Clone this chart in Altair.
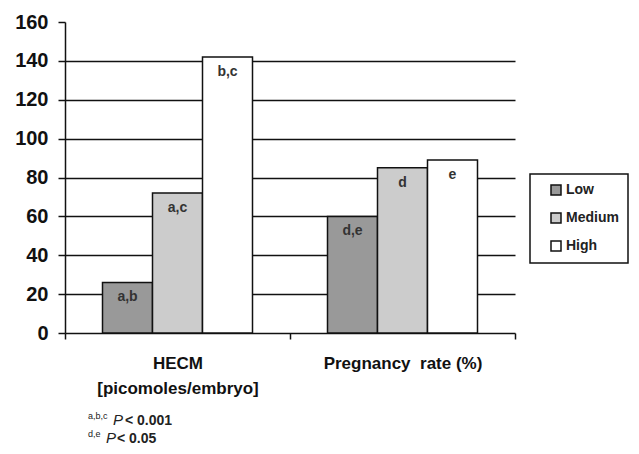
import altair as alt
import pandas as pd

categories = ["HECM|[picomoles/embryo]", "Pregnancy\u00a0 rate (%)"]
groups = ["Low", "Medium", "High"]
hecm_values = [26, 72, 142]
pregnancy_values = [60, 85, 89]
hecm_marks = ["a,b", "a,c", "b,c"]
pregnancy_marks = ["d,e", "d", "e"]
colors = ["#999999", "#cccccc", "#ffffff"]
y_ticks = [0, 20, 40, 60, 80, 100, 120, 140, 160]

rows = []
for g, v, m in zip(groups, hecm_values, hecm_marks):
    rows.append({"cat": categories[0], "group": g, "value": v, "mark": m})
for g, v, m in zip(groups, pregnancy_values, pregnancy_marks):
    rows.append({"cat": categories[1], "group": g, "value": v, "mark": m})
df = pd.DataFrame(rows)

FONT = "Liberation Sans"

x_axis = alt.Axis(
    labelExpr="split(datum.label, '|')",
    labelAngle=0,
    labelFont=FONT,
    labelFontSize=17,
    labelFontWeight="bold",
    labelColor="#111",
    labelLineHeight=25,
    labelPadding=16,
    labelBaseline="top",
    tickBand="extent",
    tickSize=6,
    tickColor="#111",
    tickWidth=1.5,
    domainColor="#111",
    domainWidth=1.5,
    grid=False,
)
y_axis = alt.Axis(
    values=y_ticks,
    tickCount=9,
    labelOverlap=False,
    labelFont=FONT,
    labelFontSize=20,
    labelFontWeight="bold",
    labelColor="#111",
    labelPadding=10,
    tickSize=7,
    tickColor="#111",
    tickWidth=1.5,
    domainColor="#111",
    domainWidth=1.5,
    grid=True,
    gridColor="#111",
    gridWidth=1.5,
    gridOpacity={"condition": {"test": "datum.value >= 160 || datum.value <= 0", "value": 0}, "value": 1},
)

x_enc = alt.X("cat:N", sort=categories, title=None,
              scale=alt.Scale(paddingInner=0, paddingOuter=0), axis=x_axis)
xoff_enc = alt.XOffset("group:N", sort=groups,
                       scale=alt.Scale(paddingInner=0, paddingOuter=0.75))
y_enc = alt.Y("value:Q", title=None,
              scale=alt.Scale(domain=[0, 160], nice=False), axis=y_axis)

bars = alt.Chart(df).mark_bar(stroke="#111", strokeWidth=1.5).encode(
    x=x_enc,
    xOffset=xoff_enc,
    y=y_enc,
    fill=alt.Fill(
        "group:N",
        sort=groups,
        scale=alt.Scale(domain=groups, range=colors),
        legend=alt.Legend(
            title=None,
            orient="none",
            legendX=465,
            legendY=152,
            symbolType="square",
            symbolSize=100,
            symbolStrokeColor="#111",
            symbolStrokeWidth=1.5,
            symbolOffset=10,
            labelFont=FONT,
            labelFontSize=14,
            labelFontWeight="bold",
            labelColor="#222",
            labelOffset=3,
            rowPadding=12,
            padding=9,
            strokeColor="#111",
        ),
    ),
)

labels = alt.Chart(df).mark_text(
    baseline="middle", dy=15, font=FONT, fontSize=14, fontWeight="bold", color="#333"
).encode(
    x=x_enc,
    xOffset=xoff_enc,
    y=y_enc,
    text="mark:N",
)

foot_sup = ["a,b,c", "d,e"]
foot_p = ["P", "P"]
foot_rest = ["< 0.001", "< 0.05"]


def note(text, x, y, size, style="normal", weight="bold"):
    return alt.Chart(alt.Data(values=[{"t": text}])).mark_text(
        align="left", baseline="alphabetic", font=FONT, fontSize=size,
        fontStyle=style, fontWeight=weight, color="#222"
    ).encode(x=alt.value(x), y=alt.value(y), text="t:N")


notes = [
    note(foot_sup[0], 23, 397, 9, weight="normal"),
    note(foot_p[0], 48, 403, 15, style="italic", weight="normal"),
    note(foot_rest[0], 60, 403, 14),
    note(foot_sup[1], 23, 415, 9, weight="normal"),
    note(foot_p[1], 41, 421, 15, style="italic", weight="normal"),
    note(foot_rest[1], 52, 421, 14),
]

chart = alt.layer(bars, labels, *notes).properties(
    width=450,
    height=311,
    autosize=alt.AutoSizeParams(type="none"),
    padding={"left": 57, "top": 14, "right": 116, "bottom": 113},
).configure_view(stroke=None).configure_legend(strokeWidth=1.5)

chart.save("out.html", embed_options={"renderer": "svg", "actions": False})
